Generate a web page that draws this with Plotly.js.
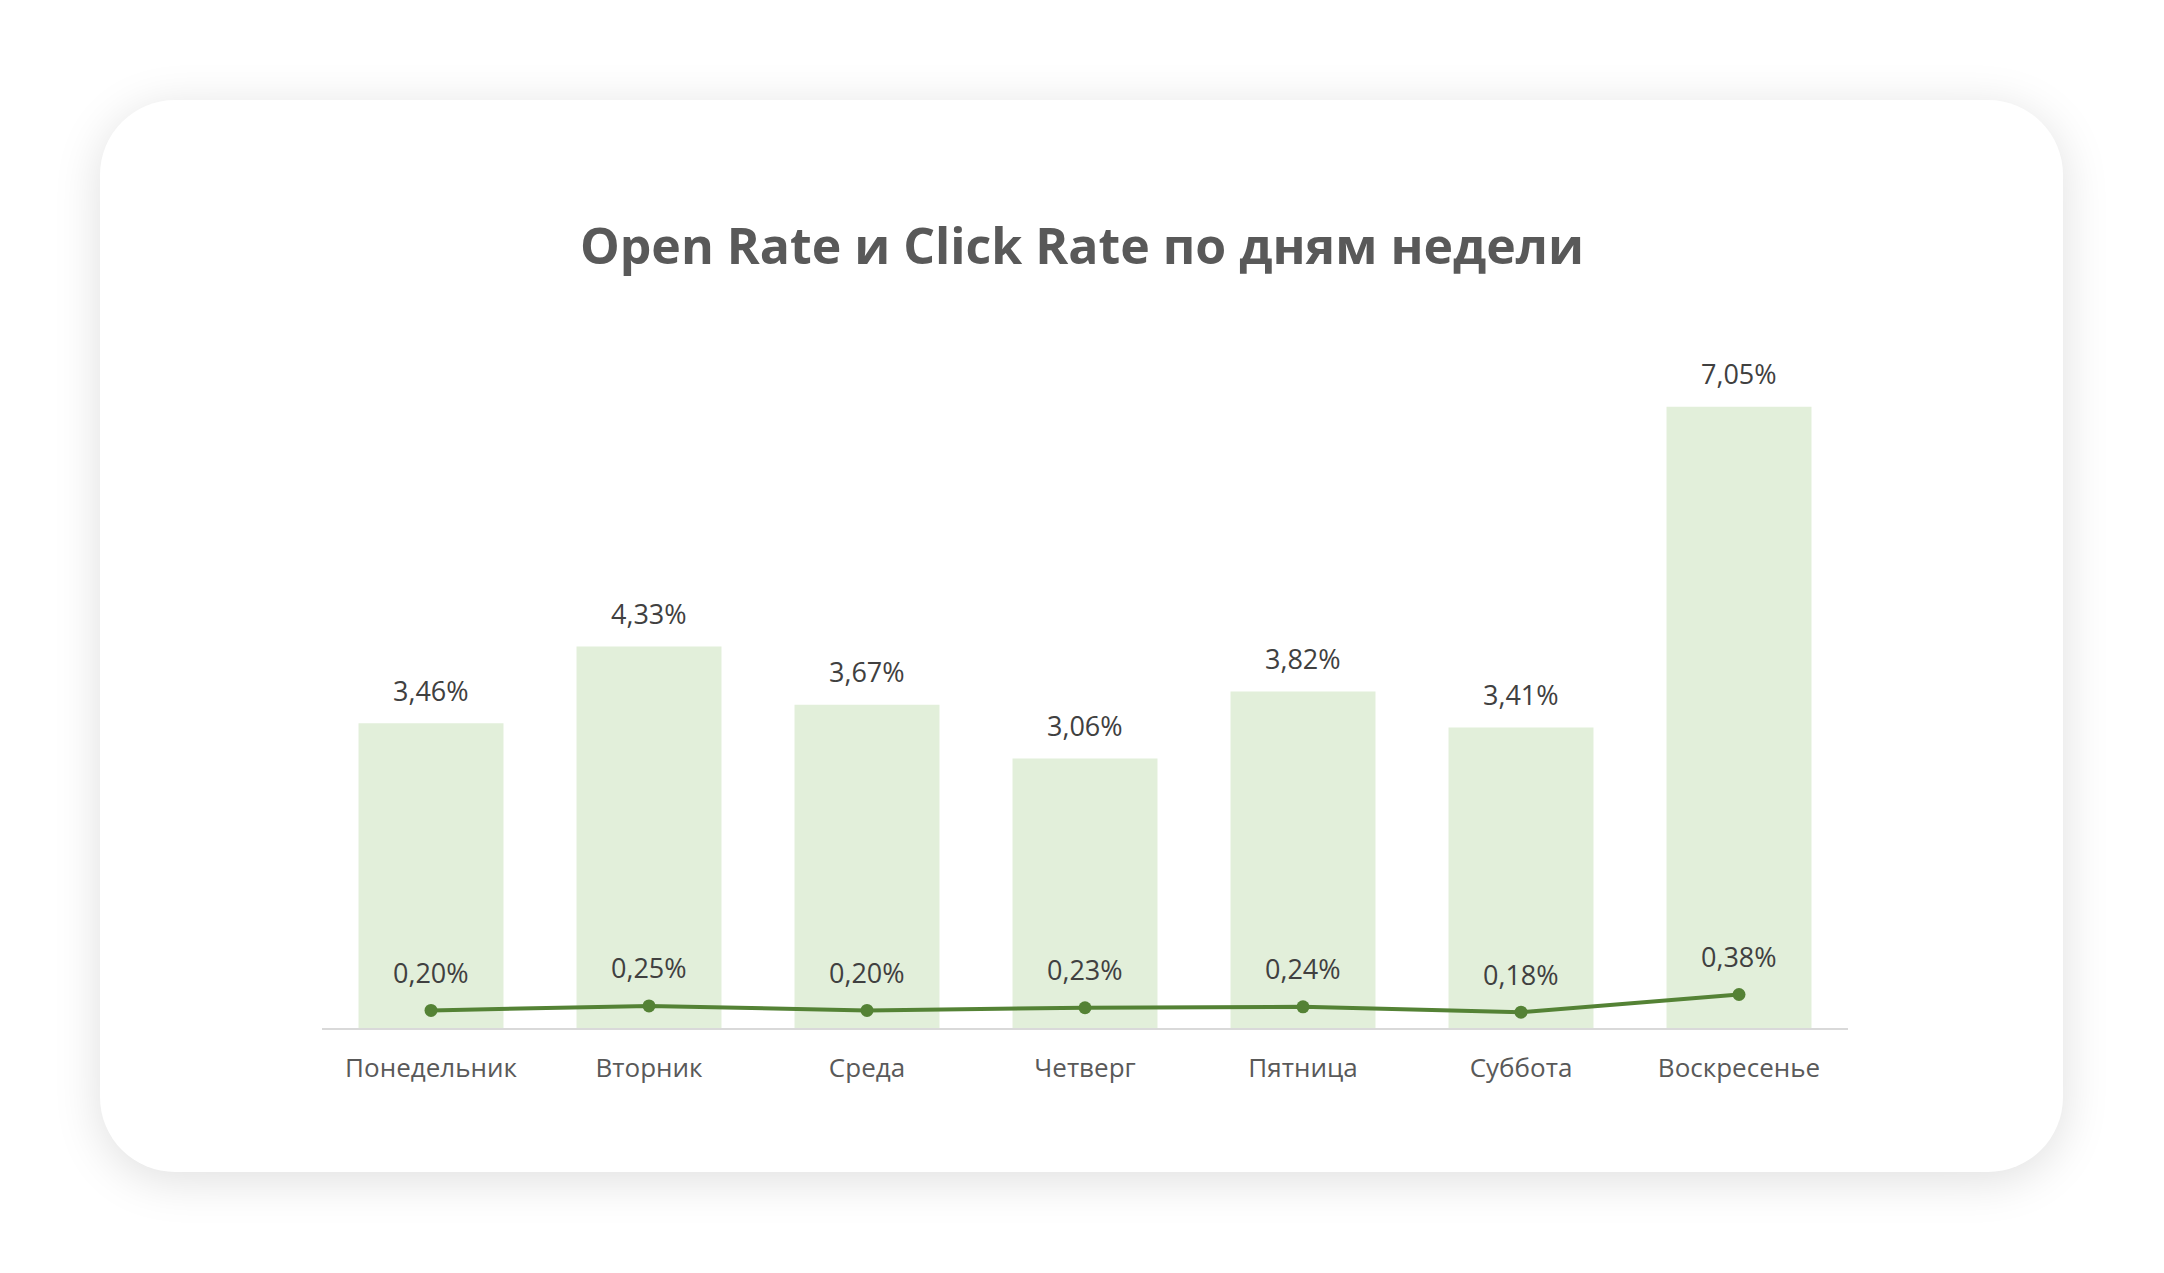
<!DOCTYPE html>
<html>
<head>
<meta charset="utf-8">
<script src="https://cdn.plot.ly/plotly-3.0.1.min.js"></script>
<style>
  html, body { margin:0; padding:0; background:#ffffff; width:2164px; height:1273px; overflow:hidden; }
  #card { position:absolute; left:100px; top:100px; width:1963px; height:1072px; background:#ffffff;
          border-radius:75px; box-shadow:0 8px 48px rgba(0,0,0,0.13); }
  #chart { position:absolute; left:0; top:0; width:2164px; height:1273px; }
</style>
</head>
<body>
<div id="card"></div>
<div id="chart"></div>
<script>
const days = ['Понедельник','Вторник','Среда','Четверг','Пятница','Суббота','Воскресенье'];
const openRate = [3.46, 4.33, 3.67, 3.06, 3.82, 3.41, 7.05];
const clickRate = [0.20, 0.25, 0.20, 0.23, 0.24, 0.18, 0.38];
const chartTitle = 'Open Rate и Click Rate по дням недели';

const fmt = v => v.toFixed(2).replace('.', ',') + '%';

const barTrace = {
  type:'bar', x:days, y:openRate, marker:{color:'#E2EFDA'},
  hoverinfo:'skip', showlegend:false
};
const lineTrace = {
  type:'scatter', mode:'lines+markers', x:days, y:clickRate,
  line:{color:'#548235', width:4}, marker:{color:'#548235', size:13},
  hoverinfo:'skip', showlegend:false
};

const labelFont = {family:'Open Sans, Noto Sans, sans-serif', size:27, color:'#404040'};
const annotations = [];
days.forEach((d, i) => {
  annotations.push({x:d, y:openRate[i], xref:'x', yref:'y', text:fmt(openRate[i]),
    showarrow:false, yanchor:'middle', yshift:33, font:labelFont});
  annotations.push({x:d, y:clickRate[i], xref:'x', yref:'y', text:fmt(clickRate[i]),
    showarrow:false, yanchor:'middle', yshift:38, font:labelFont});
});

const layout = {
  width:2164, height:1273,
  paper_bgcolor:'rgba(0,0,0,0)', plot_bgcolor:'rgba(0,0,0,0)',
  margin:{l:322, r:316, t:300, b:245},
  title:{text:chartTitle, x:0.5, xanchor:'center', y:1-246/1273, yanchor:'middle',
    font:{family:'Open Sans, Noto Sans, sans-serif', size:50, color:'#595959', weight:700}},
  bargap:0.335,
  xaxis:{showline:true, linecolor:'#d9d9d9', linewidth:2, ticks:'', showgrid:false,
    ticklabelstandoff:16,
    tickfont:{family:'Open Sans, Noto Sans, sans-serif', size:26, color:'#595959'}, fixedrange:true},
  yaxis:{range:[0, 8.263], showgrid:false, zeroline:false, showticklabels:false, showline:false, fixedrange:true},
  annotations:annotations
};

Plotly.newPlot('chart', [barTrace, lineTrace], layout, {displayModeBar:false, staticPlot:true});
</script>
</body>
</html>
